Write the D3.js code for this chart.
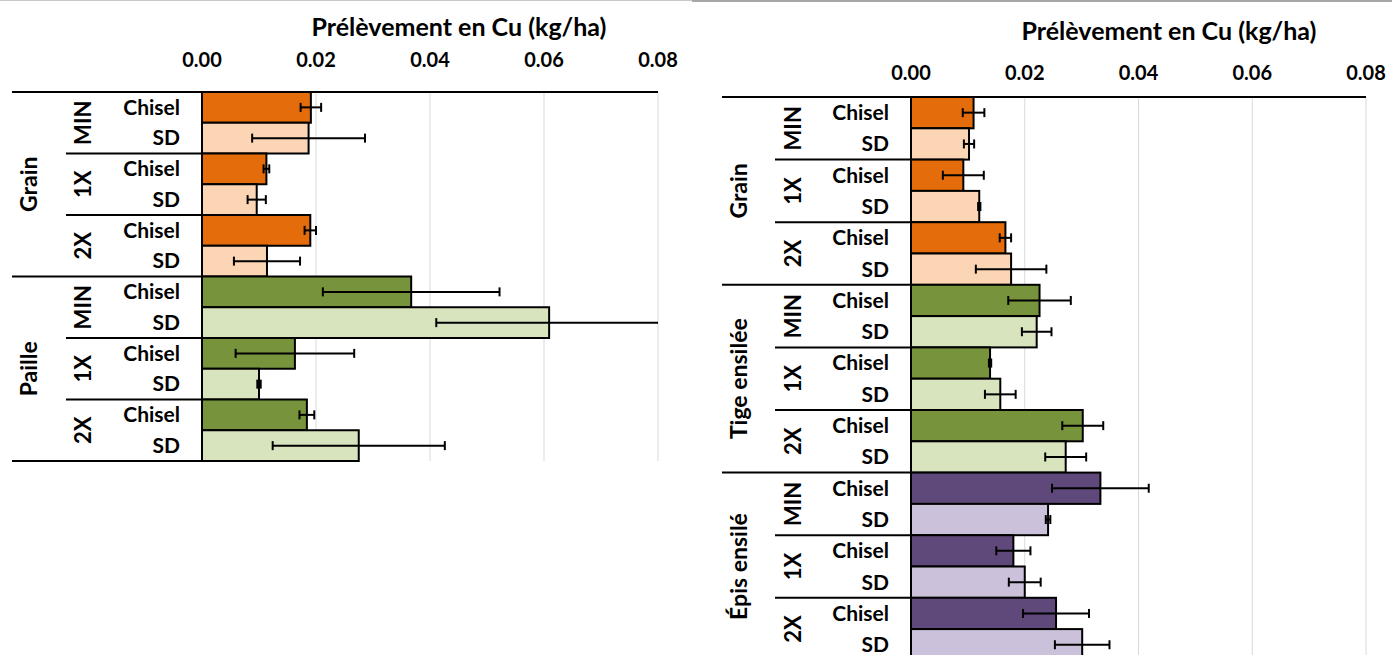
<!DOCTYPE html>
<html>
<head>
<meta charset="utf-8">
<script src="https://cdn.jsdelivr.net/npm/d3@7"></script>
<style>
  body { margin: 0; background: #fff; }
  svg { display: block; }
  text { font-family: Lato, "Open Sans", sans-serif; font-weight: bold; fill: #000; }
</style>
</head>
<body>
<div id="chart"></div>
<script>
// Data (Cu uptake, kg/ha)
const tillage = ["Chisel", "SD"];
const rates = ["MIN", "1X", "2X"];
const ticks = [0, 0.02, 0.04, 0.06, 0.08];
const title = "Prélèvement en Cu (kg/ha)";

const leftParts = ["Grain", "Paille"];
const leftValues = [0.0191, 0.0187, 0.0113, 0.0096, 0.0190, 0.0114,
                    0.0367, 0.0609, 0.0163, 0.0100, 0.0184, 0.0275];
const leftErrors = [0.0018, 0.0099, 0.0005, 0.0016, 0.0010, 0.0058,
                    0.0155, 0.0198, 0.0104, 0.0003, 0.0013, 0.0151];

const rightParts = ["Grain", "Tige ensilée", "Épis ensilé"];
const rightValues = [0.0110, 0.0102, 0.0092, 0.0120, 0.0166, 0.0176,
                     0.0226, 0.0221, 0.0139, 0.0157, 0.0302, 0.0272,
                     0.0333, 0.0241, 0.0180, 0.0200, 0.0255, 0.0301];
const rightErrors = [0.0019, 0.0009, 0.0036, 0.0002, 0.0010, 0.0062,
                     0.0055, 0.0026, 0.0002, 0.0027, 0.0036, 0.0036,
                     0.0085, 0.0004, 0.0030, 0.0028, 0.0058, 0.0048];

// dark / light fill per plant part
const partColors = {
    "Grain": ["#E46C0A", "#FCD5B5"],
    "Paille": ["#77933C", "#D7E4BD"],
    "Tige ensilée": ["#77933C", "#D7E4BD"],
    "Épis ensilé": ["#5F497A", "#CCC1DA"]
};

const svg = d3.select("#chart").append("svg")
    .attr("width", 1392)
    .attr("height", 655);

// thin frame lines at the very top
svg.append("line").attr("x1", 0).attr("x2", 692).attr("y1", 0.5).attr("y2", 0.5)
    .attr("stroke", "#c8c8c8").attr("stroke-width", 1);
svg.append("line").attr("x1", 692).attr("x2", 1392).attr("y1", 1).attr("y2", 1)
    .attr("stroke", "#a6a6a6").attr("stroke-width", 2);

drawPanel({
    parts: leftParts, values: leftValues, errors: leftErrors,
    x0: 202, x1: 658, top: 92, rowH: 30.75,
    groupLineX: 12, subLineX: 66, partX: 29, rateX: 83, tillX: 180,
    titleX: 459, titleY: 36, tickY: 67
});

drawPanel({
    parts: rightParts, values: rightValues, errors: rightErrors,
    x0: 911, x1: 1366, top: 97, rowH: 31.3,
    groupLineX: 722, subLineX: 775, partX: 739, rateX: 793, tillX: 889,
    titleX: 1169, titleY: 40, tickY: 80
});

/*----------------------
DRAW ONE PANEL
----------------------*/
function drawPanel(cfg) {
    const g = svg.append("g");

    // build rows: part > rate > tillage
    const rows = [];
    cfg.parts.forEach(part => {
        rates.forEach(rate => {
            tillage.forEach((till, k) => {
                const i = rows.length;
                rows.push({ part, rate, till, k, value: cfg.values[i], err: cfg.errors[i] });
            });
        });
    });

    const x = d3.scaleLinear().domain([0, 0.08]).range([cfg.x0, cfg.x1]);
    const y = d3.scaleBand().domain(d3.range(rows.length))
        .range([cfg.top, cfg.top + cfg.rowH * rows.length])
        .padding(0);
    const bottom = cfg.top + cfg.rowH * rows.length;

    // title
    g.append("text")
        .attr("x", cfg.titleX)
        .attr("y", cfg.titleY)
        .attr("text-anchor", "middle")
        .attr("font-size", 25)
        .text(title);

    // tick labels
    g.selectAll(".tick").data(ticks).enter().append("text")
        .attr("x", d => x(d))
        .attr("y", cfg.tickY)
        .attr("text-anchor", "middle")
        .attr("font-size", 20)
        .text(d3.format(".2f"));

    // gridlines
    g.selectAll(".grid").data(ticks.slice(1)).enter().append("line")
        .attr("x1", d => x(d)).attr("x2", d => x(d))
        .attr("y1", cfg.top).attr("y2", bottom)
        .attr("stroke", "#d9d9d9").attr("stroke-width", 1);

    // bars
    g.selectAll(".bar").data(rows).enter().append("rect")
        .attr("x", x(0))
        .attr("y", (d, i) => y(i))
        .attr("width", d => x(d.value) - x(0))
        .attr("height", y.bandwidth())
        .attr("fill", d => partColors[d.part][d.k])
        .attr("stroke", "#000")
        .attr("stroke-width", 2);

    // error bars (clipped to the axis range, no cap if clipped)
    const eb = g.selectAll(".err").data(rows).enter().append("g");
    const cy = i => y(i) + y.bandwidth() / 2;
    eb.append("line")
        .attr("x1", d => x(Math.max(0, d.value - d.err)))
        .attr("x2", d => x(Math.min(0.08, d.value + d.err)))
        .attr("y1", (d, i) => cy(i)).attr("y2", (d, i) => cy(i))
        .attr("stroke", "#000").attr("stroke-width", 2);
    eb.each(function (d, i) {
        const lo = d.value - d.err, hi = d.value + d.err;
        [lo, hi].forEach(v => {
            if (v < 0 || v > 0.08) return;
            d3.select(this).append("line")
                .attr("x1", x(v)).attr("x2", x(v))
                .attr("y1", cy(i) - 4.5).attr("y2", cy(i) + 4.5)
                .attr("stroke", "#000").attr("stroke-width", 2);
        });
    });

    // category axis line
    g.append("line")
        .attr("x1", cfg.x0).attr("x2", cfg.x0)
        .attr("y1", cfg.top).attr("y2", bottom)
        .attr("stroke", "#000").attr("stroke-width", 2);

    // top line
    g.append("line")
        .attr("x1", cfg.groupLineX).attr("x2", cfg.x1)
        .attr("y1", cfg.top).attr("y2", cfg.top)
        .attr("stroke", "#000").attr("stroke-width", 2);

    // separators between rate groups and parts
    const perPart = rates.length * tillage.length;
    d3.range(2, rows.length + 1, 2).forEach(i => {
        const isPart = i % perPart === 0;
        g.append("line")
            .attr("x1", isPart ? cfg.groupLineX : cfg.subLineX)
            .attr("x2", cfg.x0)
            .attr("y1", cfg.top + i * cfg.rowH).attr("y2", cfg.top + i * cfg.rowH)
            .attr("stroke", "#000").attr("stroke-width", 2);
    });

    // tillage labels
    g.selectAll(".till").data(rows).enter().append("text")
        .attr("x", cfg.tillX)
        .attr("y", (d, i) => cy(i))
        .attr("dy", "0.35em")
        .attr("text-anchor", "end")
        .attr("font-size", 21)
        .text(d => d.till);

    // rate labels (rotated)
    d3.range(0, rows.length, 2).forEach(i => {
        const mid = cfg.top + (i + 1) * cfg.rowH;
        g.append("text")
            .attr("transform", `translate(${cfg.rateX},${mid}) rotate(-90)`)
            .attr("dy", "0.35em")
            .attr("text-anchor", "middle")
            .attr("font-size", 22)
            .text(rows[i].rate);
    });

    // part labels (rotated)
    cfg.parts.forEach((part, p) => {
        const mid = cfg.top + (p + 0.5) * perPart * cfg.rowH;
        g.append("text")
            .attr("transform", `translate(${cfg.partX},${mid}) rotate(-90)`)
            .attr("dy", "0.35em")
            .attr("text-anchor", "middle")
            .attr("font-size", 23)
            .text(part);
    });
}
</script>
</body>
</html>
